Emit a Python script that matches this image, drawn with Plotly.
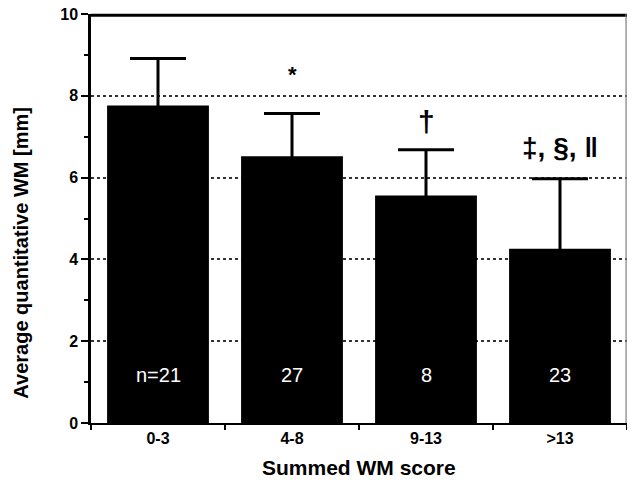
import plotly.graph_objects as go

categories = ["0-3", "4-8", "9-13", ">13"]
means = [7.76, 6.52, 5.56, 4.26]
sd = [1.15, 1.05, 1.12, 1.71]
n_labels = ["n=21", "27", "8", "23"]
sig_marks = ["", "*", "†", "‡, §, ‖"]
sig_y = [0, 8.52, 7.37, 6.73]
sig_size = [0, 22, 30, 28]
y_range = [0, 10]
y_ticks = [0, 2, 4, 6, 8, 10]
y_minor = [1, 3, 5, 7, 9]

FONT = "Liberation Sans, Arial, Helvetica, sans-serif"

fig = go.Figure()
fig.add_trace(go.Bar(
    x=categories, y=means,
    marker=dict(color="black", line=dict(width=0)),
    width=0.76,
    # symmetric SD; the lower half is hidden inside the black bar
    error_y=dict(type="data", array=sd, color="black", thickness=3, width=28),
))

# frame lines (thick top, thin grey right) drawn on a hidden overlay x axis spanning [0, 1]
fig.add_trace(go.Scatter(x=[0, 1], y=[y_range[1], y_range[1]], xaxis="x2", mode="lines",
                         line=dict(color="black", width=3), cliponaxis=False,
                         hoverinfo="skip"))
fig.add_trace(go.Scatter(x=[1, 1], y=y_range, xaxis="x2", mode="lines",
                         line=dict(color="#888888", width=1), cliponaxis=False,
                         hoverinfo="skip"))
# same frame again as shapes just inside the plot edge
fig.add_shape(type="line", xref="paper", yref="paper", x0=0, x1=1, y0=0.997, y1=0.997,
              line=dict(color="black", width=3))
fig.add_shape(type="line", xref="paper", yref="paper", x0=0.998, x1=0.998, y0=0, y1=1,
              line=dict(color="#888888", width=1))

for c, lab in zip(categories, n_labels):
    fig.add_annotation(x=c, y=1.17, text=lab, showarrow=False,
                       font=dict(family=FONT, size=20, color="white"),
                       xanchor="center", yanchor="middle")

for c, m, yy, s in zip(categories, sig_marks, sig_y, sig_size):
    if m:
        fig.add_annotation(x=c, y=yy, text=m, showarrow=False,
                           font=dict(family=FONT, size=s, color="black", weight="bold"),
                           xanchor="center", yanchor="middle")

# axis titles
fig.add_annotation(xref="paper", yref="paper", x=-0.131, y=0.416,
                   text="Average quantitative WM [mm]", textangle=-90,
                   showarrow=False, font=dict(family=FONT, size=20, color="black", weight="bold"),
                   xanchor="center", yanchor="middle")
fig.add_annotation(xref="paper", yref="paper", x=0.5, y=-0.108,
                   text="Summed WM score", showarrow=False,
                   font=dict(family=FONT, size=21, color="black", weight="bold"),
                   xanchor="center", yanchor="middle")

# page body has an 8px margin: size the figure so the page does not overflow
fig.update_layout(
    width=619, height=472,
    margin=dict(l=83, r=0, t=6, b=57),
    paper_bgcolor="white", plot_bgcolor="white",
    showlegend=False, bargap=0.24,
    font=dict(family=FONT, color="black"),
    xaxis=dict(
        showline=True, linecolor="black", linewidth=2,
        ticks="outside", tickson="boundaries", ticklen=5, tickwidth=2, tickcolor="black",
        tickfont=dict(family=FONT, size=16, color="black", weight="bold"),
        showgrid=False,
    ),
    xaxis2=dict(overlaying="x", range=[0, 1], visible=False),
    yaxis=dict(
        range=y_range, tickvals=y_ticks,
        showline=True, linecolor="black", linewidth=2.5,
        ticks="outside", ticklen=7, tickwidth=2, tickcolor="black",
        tickfont=dict(family=FONT, size=16, color="black", weight="bold"),
        ticklabeloverflow="allow", automargin=False,
        minor=dict(tickvals=y_minor, ticks="outside", ticklen=4, tickwidth=2, tickcolor="black"),
        showgrid=True, gridcolor="#333333", gridwidth=1.5, griddash="dot",
        zeroline=False,
    ),
)

fig.write_html("out.html")
